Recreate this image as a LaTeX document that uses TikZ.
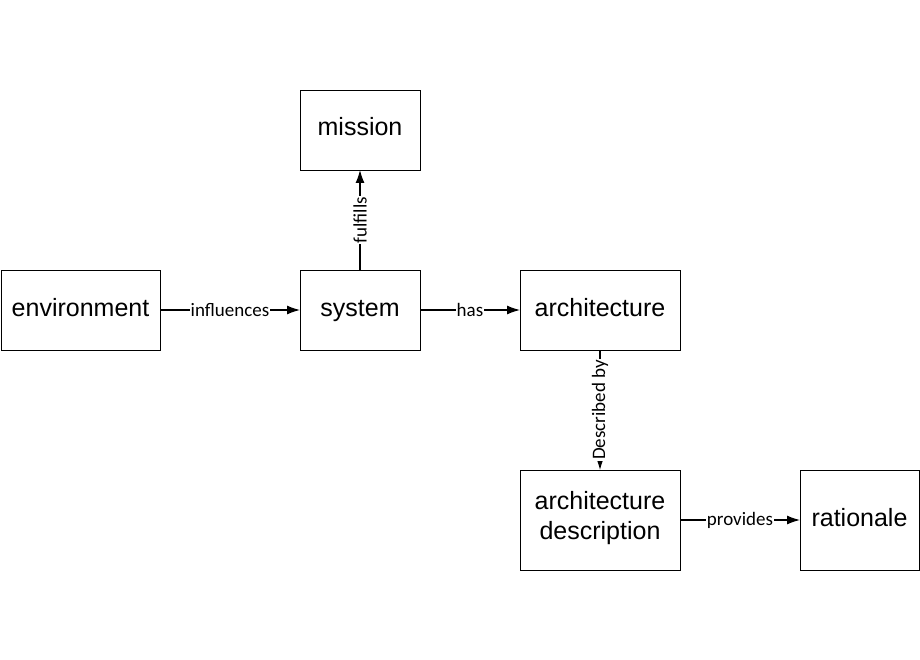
\documentclass[tikz,border=0pt]{standalone}
\usepackage{fontspec}
\setmainfont{Liberation Sans}
\newfontfamily\labelfont{Carlito}
\usetikzlibrary{arrows.meta,positioning}
\tikzset{
  >={Latex[length=13pt,width=9pt]},
  flow/.style={->,line width=1.2pt},
  box/.style={draw,line width=0.9pt,outer sep=0pt,align=center,minimum height=80pt,
    font=\fontsize{25}{30}\selectfont,execute at begin node=\strut},
  rel/.style={midway,fill=white,inner sep=1pt,font=\labelfont\fontsize{19}{19}\selectfont}
}

\begin{document}
\begin{tikzpicture}[node distance=100pt]
  \useasboundingbox (0,0) rectangle (920pt,-660pt);
  \node[box,minimum width=159pt] (env) at (80.5pt,-310pt) {environment};
  \node[box,minimum width=120pt,right=140pt of env] (sys) {system};
  \node[box,minimum width=120pt,above=of sys] (mission) {mission};
  \node[box,minimum width=160pt,right=of sys] (arch) {architecture};
  \node[box,minimum width=160pt,minimum height=100pt,below=120pt of arch] (ad) {architecture\\description};
  \node[box,minimum width=119pt,minimum height=100pt,right=120pt of ad] (rat) {rationale};
  \draw[flow] (env) -- node[rel]{influences} (sys);
  \draw[flow] (sys) -- node[rel]{has} (arch);
  \draw[flow] (sys) -- node[rel,sloped]{fulfills} (mission);
  \draw[flow] (arch) -- node[rel,rotate=90]{Described by} (ad);
  \draw[flow] (ad) -- node[rel]{provides} (rat);
\end{tikzpicture}
\end{document}
